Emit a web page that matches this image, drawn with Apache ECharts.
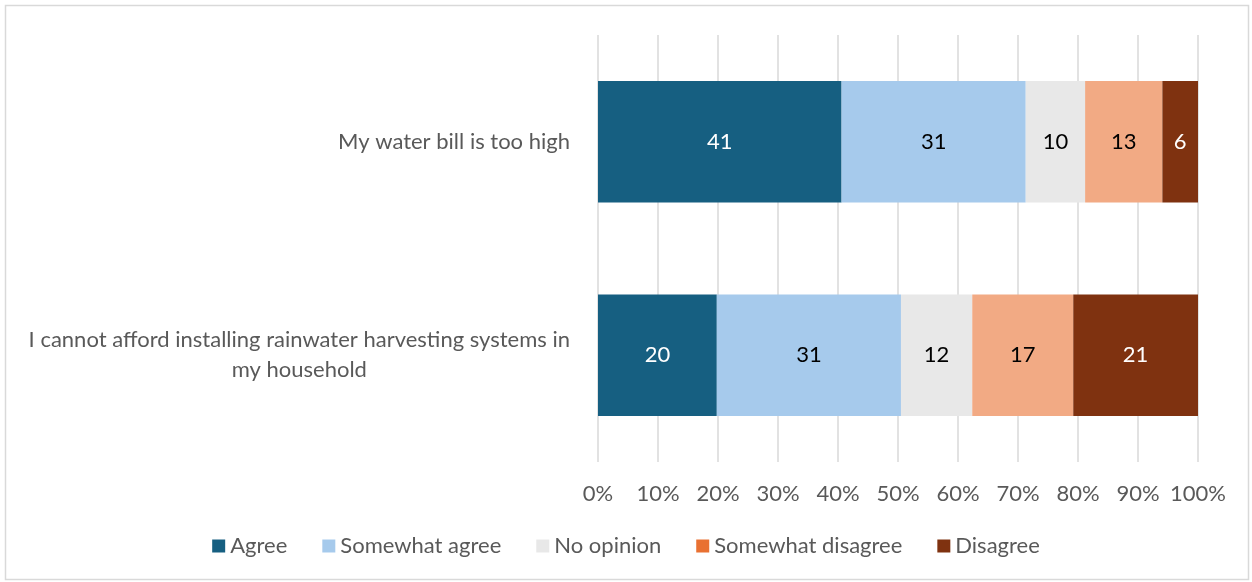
<!DOCTYPE html>
<html>
<head>
<meta charset="utf-8">
<script src="https://cdn.jsdelivr.net/npm/echarts@6/dist/echarts.min.js"></script>
<style>
  html, body { margin: 0; padding: 0; background: #fff; }
  #chart { width: 1252px; height: 582px; }
</style>
</head>
<body>
<div id="chart"></div>
<script>
// statements, top to bottom
const categories = [
  "My water bill is too high",
  "I cannot afford installing rainwater harvesting systems in\nmy household",
];
const seriesNames = ["Agree", "Somewhat agree", "No opinion", "Somewhat disagree", "Disagree"];
const agree = [41, 20];
const somewhatAgree = [31, 31];
const noOpinion = [10, 12];
const somewhatDisagree = [13, 17];
const disagree = [6, 21];
const tickLabels = ["0%", "10%", "20%", "30%", "40%", "50%", "60%", "70%", "80%", "90%", "100%"];

const barColors = ["#165F81", "#A6CAEC", "#E8E8E8", "#F2AA84", "#7F3210"];
const legendColors = ["#165F81", "#A6CAEC", "#E8E8E8", "#E97132", "#7F3210"];
const labelColors = ["#fff", "#000", "#000", "#000", "#fff"];

const raw = [agree, somewhatAgree, noOpinion, somewhatDisagree, disagree];
// 100% stacked: each row is scaled by its own total
const rowTotals = categories.map((c, i) => raw.reduce((s, arr) => s + arr[i], 0));

const font = "Lato, 'Open Sans', sans-serif";
const fs = 22;
const chart = echarts.init(document.getElementById("chart"));

chart.setOption({
  animation: false,
  textStyle: { fontFamily: font },
  graphic: [
    {
      type: "rect",
      shape: { x: 5.5, y: 5.5, width: 1243, height: 574 },
      style: { fill: "none", stroke: "#d9d9d9", lineWidth: 1.5 },
      silent: true,
    },
  ],
  grid: { left: 598, right: 54, top: 35, bottom: 120 },
  legend: {
    bottom: 20,
    left: "center",
    icon: "rect",
    itemWidth: 13,
    itemHeight: 13,
    itemGap: 35,
    textStyle: { fontFamily: font, fontSize: fs, color: "#595959" },
    data: seriesNames.map((n, i) => ({ name: n, itemStyle: { color: legendColors[i] } })),
  },
  xAxis: {
    type: "value",
    min: 0,
    max: 100,
    interval: 10,
    axisLine: { show: false },
    axisTick: { show: false },
    splitLine: { lineStyle: { color: "#d9d9d9", width: 1.5 } },
    axisLabel: {
      margin: 21,
      fontSize: fs,
      color: "#595959",
      fontFamily: font,
      formatter: (v) => tickLabels[Math.round(v / 10)],
    },
  },
  yAxis: {
    type: "category",
    inverse: true,
    data: categories,
    axisLine: { show: false },
    axisTick: { show: false },
    axisLabel: {
      margin: 28,
      fontSize: fs,
      color: "#595959",
      fontFamily: font,
      lineHeight: 30,
      formatter: (v) => v.split("\n").map((l) => "{c|" + l + "}").join("\n"),
      rich: { c: { align: "center", fontSize: fs, color: "#595959", fontFamily: font, lineHeight: 30 } },
    },
  },
  series: seriesNames.map((name, k) => ({
    name: name,
    type: "bar",
    stack: "total",
    barWidth: "57%",
    itemStyle: { color: barColors[k] },
    label: {
      show: true,
      position: "inside",
      fontSize: fs,
      fontFamily: font,
      color: labelColors[k],
      formatter: (p) => raw[k][p.dataIndex],
    },
    data: raw[k].map((v, i) => (v / rowTotals[i]) * 100),
  })),
});
</script>
</body>
</html>
